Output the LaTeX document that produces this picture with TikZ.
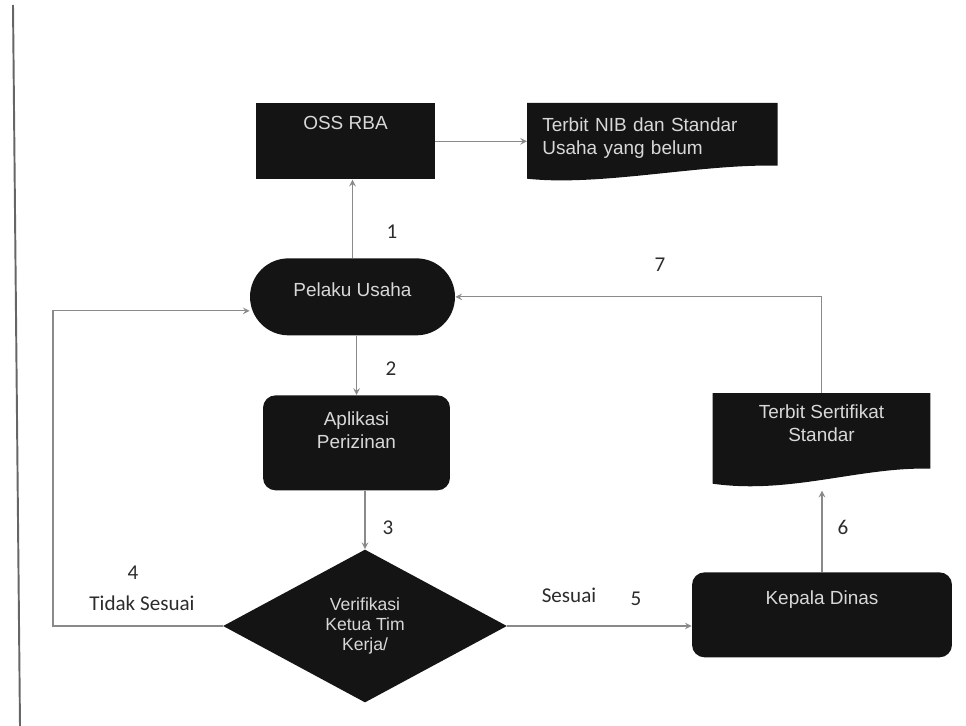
\documentclass[tikz,border=0pt]{standalone}
\usepackage{fontspec}
\setmainfont{Liberation Sans}
\newfontfamily\lblfont{Carlito}
\usepackage{tikz}
\usetikzlibrary{calc, positioning, arrows, shapes.geometric, backgrounds}
\definecolor{boxfill}{HTML}{141414}
\definecolor{boxtext}{HTML}{D8D8D8}
\definecolor{connclr}{HTML}{8A8A8A}
\definecolor{lblclr}{HTML}{2C2C2C}
\tikzstyle{blk}=[inner sep=0pt, fill=boxfill, text=boxtext, font=\fontsize{10.8}{13}\selectfont, align=center, anchor=north]
\tikzstyle{doc}=[inner sep=0pt, text=boxtext, font=\fontsize{10.8}{13}\selectfont, anchor=north west]
\tikzstyle{lab}=[inner sep=1pt, text=lblclr, font=\lblfont\fontsize{12}{14}\selectfont]
\tikzstyle{flow}=[draw=connclr, line width=0.7pt, ->]
\tikzset{>=stealth}

\begin{document}
\begin{tikzpicture}[x=0.02cm, y=-0.02cm]
\useasboundingbox (0,0) rectangle (966,726);
% the scanned page edge
\draw[black!60, line width=1.1pt] (13,5) -- (20,726);
% the top row
\node[blk, minimum width=3.58cm, minimum height=1.52cm, text height=0.52cm, text depth=1.0cm] (oss) at (345.5,103) {OSS RBA};
\node[doc, text width=4.4cm, inner xsep=0.3cm, minimum height=1.6cm, text height=0.56cm, text depth=1.04cm, align=left] (nib) at (527,103) {Terbit NIB dan Standar\\Usaha yang belum};
% the left column
\node[blk, rounded corners=0.77cm, minimum width=4.1cm, minimum height=1.54cm, text height=0.76cm, text depth=0.78cm] (pu) at (352.5,258) {Pelaku Usaha};
\node[blk, rounded corners=0.25cm, minimum width=3.74cm, minimum height=1.9cm, text height=1.06cm, text depth=0.84cm] (apl) at (356.5,395) {Aplikasi\\Perizinan};
\node[blk, diamond, anchor=center, minimum width=5.68cm, minimum height=3.06cm, font=\fontsize{10}{11.5}\selectfont] (ver) at (365,626) {Verifikasi\\Ketua Tim\\Kerja/};
% the right column
\node[blk, rounded corners=0.25cm, minimum width=5.2cm, minimum height=1.7cm, text height=0.64cm, text depth=1.06cm] (kd) at (822,572) {Kepala Dinas};
\node[doc, anchor=north, minimum width=4.34cm, minimum height=1.94cm, text height=0.96cm, text depth=0.98cm, align=center] (tss) at (821.5,393) {Terbit Sertifikat\\Standar};
% the connectors
\coordinate (c4) at (53,626);
\draw[flow] (pu.north) -- (pu.north |- oss.south);
\draw[flow] (oss.east) -- (oss.east -| nib.west);
\draw[flow] (pu.south -| apl.north) -- (apl.north);
\draw[flow] (apl.south -| ver.north) -- (ver.north);
\draw[flow] (ver.west) -- (c4) |- ($(pu.west)+(0,14)$);
\draw[flow] (ver.east) -- (ver.east -| kd.west);
\draw[flow] (kd.north) -- (kd.north |- tss.south);
\draw[flow] (tss.north) |- (pu.east);
% the step numbers
\node[lab] (n1) at (392,232) {1};
\node[lab] (n2) at (391,369) {2};
\node[lab] (n3) at (388,528) {3};
\node[lab] (n4) at (133,573) {4};
\node[lab] (tdk) at (142,603) {Tidak Sesuai};
\node[lab] (ses) at (569,595) {Sesuai};
\node[lab] (n5) at (636,599) {5};
\node[lab] (n6) at (843,527) {6};
\node[lab] (n7) at (660,265) {7};
% the document shapes
\begin{scope}[on background layer]
\fill[boxfill] (nib.north west) -- (nib.north east) -- ($(nib.south east)+(0,-18)$) .. controls ($(nib.south east)+(-77,-20)$) and ($(nib.south west)+(73,3)$) .. ($(nib.south west)+(0,-5)$) -- cycle;
\fill[boxfill] (tss.north west) -- (tss.north east) -- ($(tss.south east)+(0,-22)$) .. controls ($(tss.south east)+(-70,-24)$) and ($(tss.south west)+(77,4)$) .. ($(tss.south west)+(0,-7)$) -- cycle;
\end{scope}
\end{tikzpicture}
\end{document}
